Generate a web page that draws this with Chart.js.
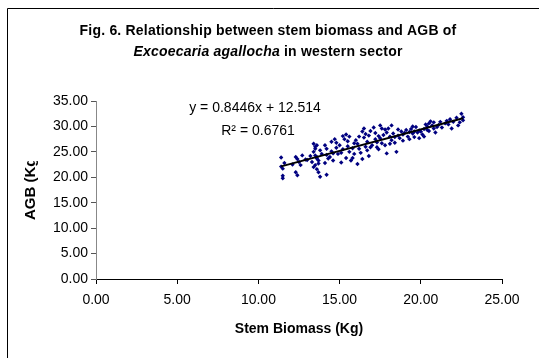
<!DOCTYPE html>
<html>
<head>
<meta charset="utf-8">
<script src="https://cdn.jsdelivr.net/npm/chart.js@4.4.1/dist/chart.umd.min.js"></script>
<style>
  html, body { margin: 0; padding: 0; background: #fff; }
  #wrap { width: 539px; height: 358px; }
</style>
</head>
<body>
<div id="wrap"><canvas id="chart" width="539" height="358"></canvas></div>
<script>
// stem biomass (Kg) of each tree
const stemBiomass = [
  11.4, 11.5, 11.5, 11.5, 11.4, 11.6,
  12.3, 12.4, 12.5, 12.6, 12.3, 12.4, 12.7, 12.1, 12.9,
  13.4, 13.5, 13.5, 13.6, 13.4, 13.5, 13.6, 13.6, 13.7, 13.7, 13.5, 13.6, 13.7, 13.8, 13.3, 13.4, 13.8, 13.9, 13.2, 13.0,
  14.1, 14.2, 14.2, 14.1, 14.2, 14.4, 14.5, 14.6, 14.7, 14.8, 14.9, 14.6, 14.3, 14.8, 14.5,
  15.0, 15.1, 15.2, 15.3, 15.4, 15.5, 15.5, 15.6, 15.4, 15.7, 15.8, 15.9, 15.2, 15.6, 15.8, 15.1, 15.9,
  16.0, 16.1, 16.2, 16.3, 16.4, 16.5, 16.6, 16.6, 16.7, 16.8, 16.9, 16.2, 16.4, 16.8, 17.0, 16.5, 16.9, 16.1, 16.7,
  17.1, 17.2, 17.3, 17.4, 17.5, 17.6, 17.7, 17.8, 17.9, 17.3, 17.6, 17.5, 17.9, 17.2, 17.8, 17.4,
  18.0, 18.1, 18.2, 18.3, 18.4, 18.5, 18.6, 18.7, 18.8, 18.9, 18.2, 18.6, 18.4, 18.9, 18.1,
  19.0, 19.1, 19.2, 19.3, 19.4, 19.5, 19.6, 19.7, 19.8, 19.9, 19.3, 19.6, 19.9, 19.5,
  20.0, 20.1, 20.2, 20.3, 20.4, 20.5, 20.6, 20.7, 20.8, 20.9, 20.2, 20.5, 20.8, 20.4,
  21.0, 21.1, 21.3, 21.5, 21.6, 21.7, 21.9, 21.2, 21.8,
  22.0, 22.2, 22.3, 22.5, 22.6, 22.6, 22.4
];
// AGB (Kg) of the same trees
const agb = [
  23.9, 21.7, 20.3, 19.8, 22.1, 22.8,
  24.0, 23.6, 23.0, 22.4, 21.0, 20.4, 24.3, 22.5, 23.5,
  26.6, 26.0, 25.6, 26.3, 25.0, 24.3, 24.0, 23.7, 23.3, 22.7, 22.4, 21.6, 21.0, 20.1, 23.0, 22.0, 25.3, 24.6, 24.2, 23.4,
  26.3, 25.6, 24.4, 22.8, 20.5, 24.0, 25.1, 24.7, 27.5, 26.8, 24.6, 23.3, 23.7, 25.8, 27.0,
  26.3, 24.8, 25.5, 27.5, 28.4, 27.1, 26.1, 25.0, 23.8, 23.3, 23.8, 26.7, 28.1, 28.0, 25.7, 22.9, 24.6,
  27.3, 26.6, 25.6, 24.8, 29.0, 29.6, 26.0, 28.5, 27.0, 24.2, 25.9, 28.0, 23.6, 28.2, 26.3, 27.8, 29.1, 22.6, 25.3,
  29.8, 28.7, 26.9, 25.5, 27.7, 29.6, 28.3, 26.3, 24.7, 25.9, 26.7, 30.2, 28.8, 27.5, 29.4, 28.1,
  29.6, 28.0, 27.3, 28.6, 26.8, 25.0, 28.2, 27.7, 29.0, 28.4, 30.2, 29.4, 27.9, 27.2, 26.6,
  28.7, 29.3, 28.0, 28.9, 29.5, 28.6, 27.9, 29.9, 28.8, 29.2, 27.5, 29.0, 27.7, 30.0,
  29.0, 28.4, 29.5, 30.4, 30.0, 29.1, 31.0, 30.2, 29.6, 28.8, 28.0, 30.6, 30.8, 29.3,
  29.9, 30.3, 29.8, 30.6, 31.1, 30.4, 29.6, 30.9, 31.4,
  30.9, 31.7, 30.2, 32.5, 31.8, 31.2, 30.8
];
// linear trendline ends
const trendX = [11.4, 22.6];
const trendY = [22.14, 31.60];

const xTicks = [0, 5, 10, 15, 20, 25];
const yTicks = [0, 5, 10, 15, 20, 25, 30, 35];

const titleLine1 = 'Fig. 6. Relationship between stem biomass and AGB of';
const titleItalic = 'Excoecaria agallocha';
const titleRest = ' in western sector';
const eqText = 'y = 0.8446x + 12.514';
const r2Text = 'R² = 0.6761';
const xTitle = 'Stem Biomass (Kg)';
const yTitle = 'AGB (Kg)';

const FONT = '"Liberation Sans", Arial, sans-serif';

const points = stemBiomass.map((x, i) => ({ x: x, y: agb[i] }));
const trend = trendX.map((x, i) => ({ x: x, y: trendY[i] }));

// frame, titles, equation text
const decor = {
  id: 'decor',
  beforeDraw(chart) {
    const ctx = chart.ctx;
    ctx.save();
    ctx.fillStyle = '#fff';
    ctx.fillRect(0, 0, chart.width, chart.height);
    ctx.strokeStyle = '#000';
    ctx.lineWidth = 1;
    ctx.beginPath();
    ctx.moveTo(7.5, chart.height);
    ctx.lineTo(7.5, 8.5);
    ctx.lineTo(chart.width, 8.5);
    ctx.stroke();
    ctx.restore();
  },
  afterDraw(chart) {
    const ctx = chart.ctx;
    ctx.save();
    ctx.fillStyle = '#000';
    ctx.textBaseline = 'middle';

    // title, second line partly italic
    ctx.letterSpacing = '0.2px';
    ctx.textAlign = 'center';
    ctx.font = 'bold 14px ' + FONT;
    ctx.fillText(titleLine1, 268, 31);
    ctx.font = 'italic bold 14px ' + FONT;
    const wi = ctx.measureText(titleItalic).width;
    ctx.font = 'bold 14px ' + FONT;
    const wr = ctx.measureText(titleRest).width;
    let x0 = 268 - (wi + wr) / 2;
    ctx.textAlign = 'left';
    ctx.font = 'italic bold 14px ' + FONT;
    ctx.fillText(titleItalic, x0, 52);
    ctx.font = 'bold 14px ' + FONT;
    ctx.fillText(titleRest, x0 + wi, 52);

    // regression text
    ctx.letterSpacing = '0px';
    ctx.textAlign = 'center';
    ctx.font = '14px ' + FONT;
    ctx.fillText(eqText, 255, 108);
    ctx.fillText(r2Text, 258, 131);

    // axis titles
    ctx.font = 'bold 14px ' + FONT;
    ctx.fillText(xTitle, 299, 329);

    // y title is cut off at the top in the original
    ctx.beginPath();
    ctx.rect(0, 161, 80, 200);
    ctx.clip();
    ctx.translate(31, 220);
    ctx.rotate(-Math.PI / 2);
    ctx.textAlign = 'left';
    ctx.font = 'bold 15px ' + FONT;
    ctx.fillText(yTitle, 0, 0);
    ctx.restore();
  }
};

new Chart(document.getElementById('chart'), {
  type: 'scatter',
  data: {
    datasets: [
      {
        data: points,
        pointStyle: 'rectRot',
        pointRadius: 2.2,
        backgroundColor: '#000080',
        borderColor: '#000080',
        borderWidth: 0,
        order: 2
      },
      {
        type: 'line',
        data: trend,
        borderColor: '#000',
        borderWidth: 2,
        pointRadius: 0,
        fill: false,
        order: 1
      }
    ]
  },
  options: {
    responsive: false,
    animation: false,
    layout: { padding: { top: 101, right: 37, left: 0, bottom: 0 } },
    plugins: { legend: { display: false }, tooltip: { enabled: false }, title: { display: false } },
    scales: {
      x: {
        type: 'linear',
        min: 0, max: 25,
        afterBuildTicks: s => { s.ticks = xTicks.map(v => ({ value: v })); },
        afterFit: s => { s.height = 79; },
        ticks: { callback: v => v.toFixed(2), color: '#000', font: { size: 14, family: FONT }, padding: 8, maxRotation: 0 },
        grid: { drawOnChartArea: false, tickLength: 5, color: '#000' },
        border: { color: '#000', width: 1 }
      },
      y: {
        min: 0, max: 35,
        afterBuildTicks: s => { s.ticks = yTicks.map(v => ({ value: v })); },
        afterFit: s => { s.width = 96; },
        ticks: { callback: v => v.toFixed(2), color: '#000', font: { size: 14, family: FONT }, padding: 3 },
        grid: { drawOnChartArea: false, tickLength: 5, color: '#555' },
        border: { color: '#888', width: 1 }
      }
    }
  },
  plugins: [decor]
});
</script>
</body>
</html>
